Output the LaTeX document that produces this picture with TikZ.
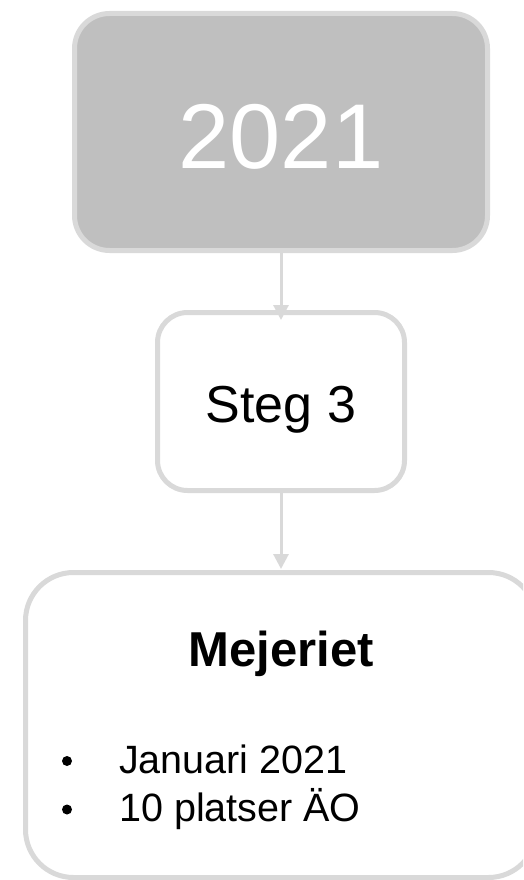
\documentclass[tikz,border=0pt]{standalone}
\usepackage{fontspec}
\setmainfont{Liberation Sans}
\usetikzlibrary{arrows.meta}
\definecolor{edgegray}{HTML}{D9D9D9}
\definecolor{fillgray}{HTML}{BFBFBF}
\tikzset{
  box/.style={draw=edgegray, line width=5pt, rounded corners=#1, inner sep=0pt, outer sep=auto, rectangle},
  conn/.style={draw=edgegray, line width=3pt, -{Triangle[length=15pt,width=15pt]}},
  txt/.style={inner sep=0pt, anchor=base},
  bul/.style={circle, fill=black, inner sep=0pt, minimum size=10pt}
}
\begin{document}
\begin{tikzpicture}[x=1pt, y=-1pt]
\useasboundingbox (0,0) rectangle (523,880);
\clip (0,0) rectangle (523,880);
\node[box=35pt, fill=fillgray, minimum width=413pt, minimum height=237pt] (b1) at (281,132) {};
\node[box=30pt, fill=white, minimum width=247pt, minimum height=178pt] (b2) at (281,401.5) {};
\node[box=48pt, fill=white, minimum width=511pt, minimum height=305pt] (b3) at (281,725) {};
\node[txt, text=white] (t1) at (281,168) {\fontsize{92}{110}\selectfont 2021};
\node[txt] (t2) at (281,422) {\fontsize{52}{62}\selectfont Steg 3};
\node[txt] (t3) at (281,666.5) {\fontsize{49}{59}\selectfont\bfseries Mejeriet};
\node[bul] (d1) at (67,761) {};
\node[bul] (d2) at (67,809.5) {};
\node[txt, anchor=base west] (l1) at (119,773) {\fontsize{39.5}{47}\selectfont Januari 2021};
\node[txt, anchor=base west] (l2) at (119,821.5) {\fontsize{39.5}{47}\selectfont 10 platser ÄO};
\draw[conn] (b1.south) -- ([yshift=-10pt]b2.north);
\draw[conn] (b2.south) -- ([yshift=1pt]b3.north);
\end{tikzpicture}
\end{document}
